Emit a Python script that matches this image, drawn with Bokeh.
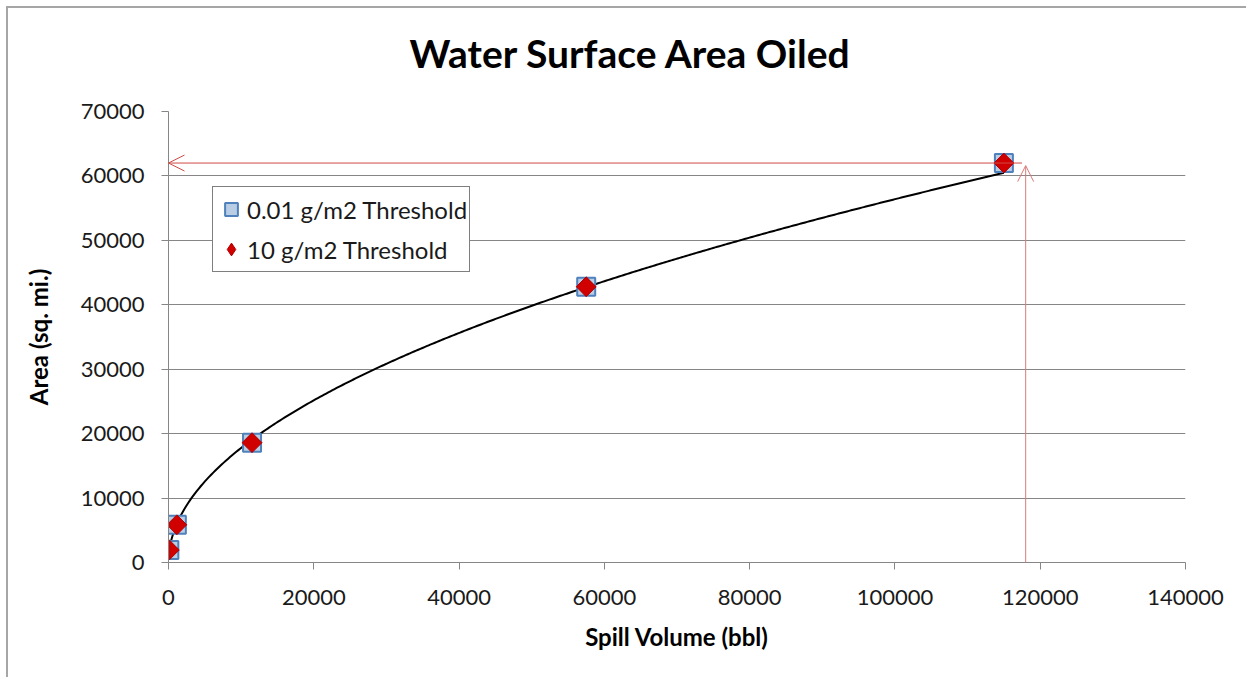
import numpy as np
from bokeh.plotting import figure
from bokeh.models import (Range1d, FixedTicker, Legend, LegendItem, Arrow, OpenHead,
                          ColumnDataSource, Title)
from bokeh.embed import file_html
from bokeh.resources import INLINE

# ---- data ----
spill_volume = [115, 1150, 11500, 57500, 115000]
area_001 = [1950, 5850, 18600, 42800, 62000]
area_10 = [1950, 5850, 18600, 42800, 62000]
x_ticks = [0, 20000, 40000, 60000, 80000, 100000, 120000, 140000]
y_ticks = [0, 10000, 20000, 30000, 40000, 50000, 60000, 70000]
target_volume = 118000
target_area = 62000

title_text = "Water Surface Area Oiled"
x_label = "Spill Volume (bbl)"
y_label = "Area (sq. mi.)"
series_names = ["0.01 g/m2 Threshold", "10 g/m2 Threshold"]

FONT = "Lato"
GRAY = "#868686"

p = figure(title=None, width=1240, height=671, output_backend="svg", toolbar_location=None,
           x_range=Range1d(0, 140000), y_range=Range1d(0, 70000),
           min_border_left=160, min_border_right=63, min_border_top=103, min_border_bottom=117)
p.styles = {"border-left": "2px solid #a6a6a6", "border-top": "2px solid #a6a6a6",
            "margin-left": "6px", "margin-top": "6px"}
p.outline_line_color = None
p.background_fill_color = "white"
p.border_fill_color = "white"

# title (a thin spacer title between frame and main title lifts the main title)
spacer = Title(text=" ", text_font_size="1px", standoff=33)
main_title = Title(text=title_text, align="left", offset=241, standoff=0,
                   text_font=FONT, text_font_size="39px", text_font_style="bold",
                   text_color="black")
p.add_layout(spacer, "above")
p.add_layout(main_title, "above")

# axes
for ax in (p.xaxis[0], p.yaxis[0]):
    ax.axis_line_color = GRAY
    ax.major_tick_line_color = GRAY
    ax.minor_tick_line_color = None
    ax.major_tick_out = 7
    ax.major_tick_in = 0
    ax.major_label_text_font = FONT
    ax.major_label_text_font_size = "22px"
    ax.major_label_text_color = "#1a1a1a"
    ax.axis_label_text_font = FONT
    ax.axis_label_text_font_size = "24px"
    ax.axis_label_text_font_style = "bold"
    ax.axis_label_text_color = "#000000"

p.xaxis[0].ticker = FixedTicker(ticks=x_ticks)
p.yaxis[0].ticker = FixedTicker(ticks=y_ticks)
p.xaxis[0].formatter.use_scientific = False
p.yaxis[0].formatter.use_scientific = False
p.xaxis[0].axis_label = x_label
p.yaxis[0].axis_label = y_label
p.xaxis[0].major_label_standoff = 20
p.yaxis[0].major_label_standoff = 17
p.xaxis[0].axis_label_standoff = 14
p.yaxis[0].axis_label_standoff = 25

p.xgrid.grid_line_color = None
p.ygrid.grid_line_color = GRAY
p.ygrid.grid_line_width = 1

# trendline: power fit to the data
lx = np.log(np.array(spill_volume, dtype=float))
ly = np.log(np.array(area_001, dtype=float))
b, loga = np.polyfit(lx, ly, 1)
xs = np.linspace(min(spill_volume), max(spill_volume), 400)
ys = np.exp(loga) * xs ** b
p.line(xs, ys, line_color="black", line_width=2)

src = ColumnDataSource(dict(x=spill_volume, a1=area_001, a2=area_10))
r_sq = p.scatter("x", "a1", source=src, marker="square", size=18,
                 fill_color="#b9cde5", line_color="#4f81bd", line_width=2)
p.scatter("x", "a2", source=src, marker="square", angle=np.pi / 4, size=14,
          fill_color="#d00000", line_color="#b00000", line_width=1)
# legend swatch for diamonds (legend glyphs ignore angle); zero size in the plot
r_di_leg = p.scatter("x", "a2", source=src, marker="diamond", size=0,
                     fill_color="#d00000", line_color="#b00000", line_width=1)

# arrows
p.add_layout(Arrow(end=OpenHead(size=16, line_color="#d04a45", line_width=1),
                   x_start=target_volume - 500, y_start=target_area, x_end=0, y_end=target_area,
                   line_color="#d04a45", line_width=1))
p.add_layout(Arrow(end=OpenHead(size=16, line_color="#d87a78", line_width=1),
                   x_start=target_volume, y_start=0, x_end=target_volume, y_end=target_area - 400,
                   line_color="#d87a78", line_width=1))

# legend
legend = Legend(items=[LegendItem(label=series_names[0], renderers=[r_sq]),
                       LegendItem(label=series_names[1], renderers=[r_di_leg])],
                location=(44, 290), orientation="vertical")
legend.border_line_color = "black"
legend.border_line_width = 1
legend.background_fill_color = "white"
legend.background_fill_alpha = 1
legend.label_text_font = FONT
legend.label_text_font_size = "24px"
legend.label_text_color = "#1a1a1a"
legend.glyph_width = 32
legend.glyph_height = 40
legend.label_standoff = 0
legend.spacing = 0
legend.padding = 2
legend.margin = 0
p.add_layout(legend, "center")

open("out.html", "w").write(file_html(p, INLINE))
